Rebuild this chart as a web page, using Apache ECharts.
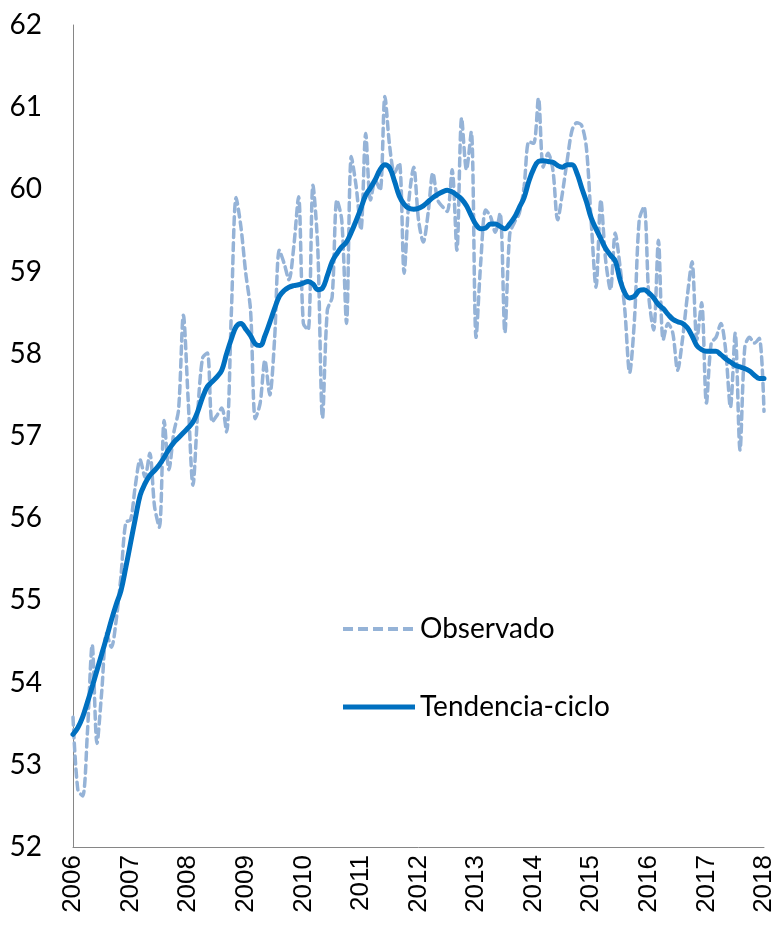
<!DOCTYPE html>
<html>
<head>
<meta charset="utf-8">
<script src="https://cdn.jsdelivr.net/npm/echarts@6/dist/echarts.min.js"></script>
<style>
  html, body { margin: 0; padding: 0; background: #fff; }
  #lineCharts { width: 777px; height: 926px; }
</style>
</head>
<body>
<div id="lineCharts"></div>
<script>
// datos mensuales, ene-2006 a ene-2018
var years = [2006, 2007, 2008, 2009, 2010, 2011, 2012, 2013, 2014, 2015, 2016, 2017, 2018];
var yTicks = [52, 53, 54, 55, 56, 57, 58, 59, 60, 61, 62];

var observado = [
  53.58, 52.70, 52.62, 53.39, 54.46, 53.26, 53.90, 54.60, 54.43, 54.76, 55.30, 55.95,
  55.98, 56.40, 56.71, 56.50, 56.79, 56.14, 55.89, 57.19, 56.59, 57.04, 57.32, 58.47,
  57.44, 56.40, 57.30, 57.95, 58.01, 57.17, 57.25, 57.34, 57.05, 58.50, 59.90, 59.54,
  58.98, 58.53, 57.21, 57.40, 57.92, 57.50, 58.17, 59.26, 59.10, 58.90, 59.30, 59.91,
  58.37, 58.29, 60.05, 59.30, 57.22, 58.53, 58.69, 59.87, 59.63, 58.37, 60.40, 60.04,
  59.51, 60.68, 59.87, 60.11, 59.99, 61.13, 60.52, 60.20, 60.32, 58.98, 59.87, 60.27,
  59.63, 59.36, 59.71, 60.20, 59.87, 59.79, 59.73, 60.24, 59.26, 60.87, 60.24, 60.70,
  58.20, 59.14, 59.75, 59.67, 59.48, 59.71, 58.26, 59.45, 59.60, 59.71, 60.03, 60.58,
  60.56, 61.11, 60.27, 60.44, 60.24, 59.63, 59.96, 60.36, 60.72, 60.81, 60.78, 60.50,
  59.60, 58.81, 59.87, 59.14, 58.78, 59.47, 59.06, 58.53, 57.77, 58.41, 59.63, 59.79,
  58.69, 58.29, 59.38, 58.17, 58.37, 58.25, 57.80, 58.17, 58.69, 59.12, 58.17, 58.62,
  57.40, 58.13, 58.20, 58.37, 58.05, 57.35, 58.25, 56.83, 58.08, 58.20, 58.13, 58.19,
  57.30
];

var tendencia = [
  53.37, 53.45, 53.58, 53.76, 53.95, 54.15, 54.35, 54.55, 54.76, 54.95, 55.12, 55.40,
  55.70, 56.00, 56.28, 56.42, 56.52, 56.58, 56.65, 56.74, 56.84, 56.92, 56.98, 57.04,
  57.10, 57.17, 57.30, 57.47, 57.60, 57.66, 57.72, 57.80, 58.00, 58.18, 58.33, 58.37,
  58.30, 58.22, 58.12, 58.10, 58.22, 58.38, 58.55, 58.70, 58.77, 58.81, 58.83, 58.84,
  58.86, 58.88, 58.85, 58.78, 58.80, 58.95, 59.12, 59.22, 59.30, 59.36, 59.48, 59.62,
  59.77, 59.93, 60.02, 60.12, 60.24, 60.30, 60.26, 60.10, 59.92, 59.82, 59.77, 59.76,
  59.77, 59.80, 59.85, 59.90, 59.94, 59.97, 59.99, 59.97, 59.93, 59.88, 59.80, 59.68,
  59.57, 59.52, 59.53, 59.58, 59.58, 59.55, 59.52, 59.58, 59.66, 59.78, 59.90, 60.10,
  60.25, 60.34, 60.35, 60.34, 60.33, 60.29, 60.27, 60.30, 60.30, 60.20, 60.02, 59.85,
  59.65, 59.52, 59.40, 59.28, 59.20, 59.13, 58.90, 58.74, 58.68, 58.70, 58.77, 58.78,
  58.74, 58.68, 58.60, 58.55, 58.48, 58.42, 58.39, 58.37, 58.32, 58.22, 58.10, 58.05,
  58.03, 58.03, 58.03, 57.99, 57.94, 57.90, 57.86, 57.84, 57.82, 57.79, 57.74, 57.70,
  57.70
];

// categorias mes a mes
var meses = [];
for (var y = 0; y < years.length; y++) {
  var nMeses = (y === years.length - 1) ? 1 : 12;
  for (var m = 1; m <= nMeses; m++) {
    meses.push(years[y] + '-' + (m < 10 ? '0' + m : m));
  }
}

// iconos de leyenda: linea discontinua y linea continua
var iconDash = 'path://M0,0h10v4h-10z M15,0h10v4h-10z M30,0h10v4h-10z M45,0h10v4h-10z M60,0h10v4h-10z M72,0h0.01v4h-0.01z';
var iconSolid = 'path://M0,0h72v5h-72z';

var myChart = echarts.init(document.getElementById('lineCharts')),
    option = {
      animation: false,
      grid: {
        left: 73,
        right: 9,
        top: 25,
        bottom: 79
      },
      legend: {
        orient: 'vertical',
        left: 343,
        top: 615,
        padding: 0,
        itemWidth: 72,
        itemHeight: 5,
        itemGap: 50,
        data: [
          { name: 'Observado', icon: iconDash, itemStyle: { color: '#95B3D7' } },
          { name: 'Tendencia-ciclo', icon: iconSolid, itemStyle: { color: '#0070C0' } }
        ],
        textStyle: {
          fontFamily: 'Lato',
          fontSize: 28,
          color: '#000'
        }
      },
      xAxis: [{
        type: 'category',
        boundaryGap: false,
        data: meses,
        axisLine: {
          lineStyle: { color: '#868686', width: 1 }
        },
        axisTick: { show: false },
        axisLabel: {
          interval: function (idx) { return idx % 12 === 0; },
          rotate: 90,
          margin: 8,
          fontFamily: 'Liberation Sans',
          fontSize: 26,
          color: '#000',
          formatter: function (v) { return v.slice(0, 4); }
        },
        splitLine: { show: false }
      }],
      yAxis: [{
        type: 'value',
        min: yTicks[0],
        max: yTicks[yTicks.length - 1],
        interval: 1,
        axisLine: {
          show: true,
          lineStyle: { color: '#868686', width: 1 }
        },
        axisTick: { show: false },
        axisLabel: {
          margin: 31,
          fontFamily: 'Lato',
          fontSize: 28,
          color: '#000'
        },
        splitLine: { show: false }
      }],
      series: [{
        name: 'Observado',
        type: 'line',
        data: observado,
        smooth: 0.3,
        symbol: 'none',
        lineStyle: {
          color: '#95B3D7',
          width: 3.5,
          type: [8, 5],
          cap: 'round'
        },
        itemStyle: { color: '#95B3D7' }
      }, {
        name: 'Tendencia-ciclo',
        type: 'line',
        data: tendencia,
        smooth: 0.4,
        symbol: 'none',
        lineStyle: {
          color: '#0070C0',
          width: 5,
          cap: 'round'
        },
        itemStyle: { color: '#0070C0' },
        z: 3
      }]
    };
myChart.setOption(option);
</script>
</body>
</html>
